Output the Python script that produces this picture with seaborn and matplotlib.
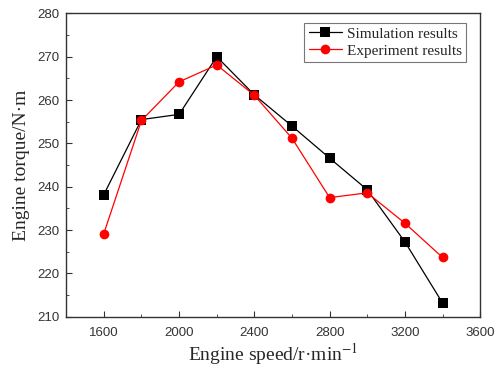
import numpy as np
import pandas as pd
import matplotlib
matplotlib.use("Agg")
import matplotlib.pyplot as plt
import seaborn as sns
from matplotlib.ticker import MultipleLocator

# engine speed (r/min)
speed = [1600, 1800, 2000, 2200, 2400, 2600, 2800, 3000, 3200, 3400]
# torque values (N.m)
simulation = [238.2, 255.5, 256.7, 270.0, 261.2, 254.0, 246.6, 239.3, 227.3, 213.2]
experiment = [229.2, 255.3, 264.2, 268.1, 261.1, 251.2, 237.5, 238.6, 231.6, 223.7]

df = pd.DataFrame({
    "speed": speed * 2,
    "torque": simulation + experiment,
    "series": ["Simulation results"] * len(speed) + ["Experiment results"] * len(speed),
})

sns.set_style("ticks")
plt.rcParams['font.family'] = ['Liberation Sans', 'DejaVu Sans']
plt.rcParams['mathtext.fontset'] = 'stix'

fig, ax = plt.subplots(figsize=(4.94, 3.71), dpi=100)
fig.subplots_adjust(left=0.134, right=0.972, top=0.964, bottom=0.146)

sns.lineplot(ax=ax, data=df, x="speed", y="torque", hue="series", style="series",
             palette={"Simulation results": "black", "Experiment results": "red"},
             markers={"Simulation results": "s", "Experiment results": "o"},
             dashes=False, markersize=7, linewidth=0.9, markeredgewidth=0)

ax.set_xlim(1400, 3600)
ax.set_ylim(210, 280)
ax.xaxis.set_major_locator(MultipleLocator(400))
ax.xaxis.set_minor_locator(MultipleLocator(200))
ax.yaxis.set_major_locator(MultipleLocator(10))
ax.yaxis.set_minor_locator(MultipleLocator(5))
ax.tick_params(which="both", direction="in", labelsize=9.5, colors="#333333")
ax.tick_params(which="major", length=4)
ax.tick_params(which="minor", length=2.5)
ax.tick_params(axis="x", pad=7)
ax.tick_params(axis="y", pad=5)
for s in ax.spines.values():
    s.set_color("#333333")
    s.set_linewidth(1)

ax.set_xlabel("Engine speed/r·min$^{-1}$", fontfamily="Liberation Serif", fontsize=14, labelpad=2)
ax.set_ylabel("Engine torque/N·m", fontfamily="Liberation Serif", fontsize=14, labelpad=5)

leg = ax.legend(loc="upper right", bbox_to_anchor=(0.985, 0.995), frameon=True, fancybox=False,
                prop={"family": "Liberation Serif", "size": 11}, handlelength=2.2,
                borderpad=0.3, labelspacing=0.2, handletextpad=0.3)
leg.get_frame().set_edgecolor("#555555")
leg.get_frame().set_linewidth(0.8)

plt.savefig("out.png", dpi=100)
plt.close()
